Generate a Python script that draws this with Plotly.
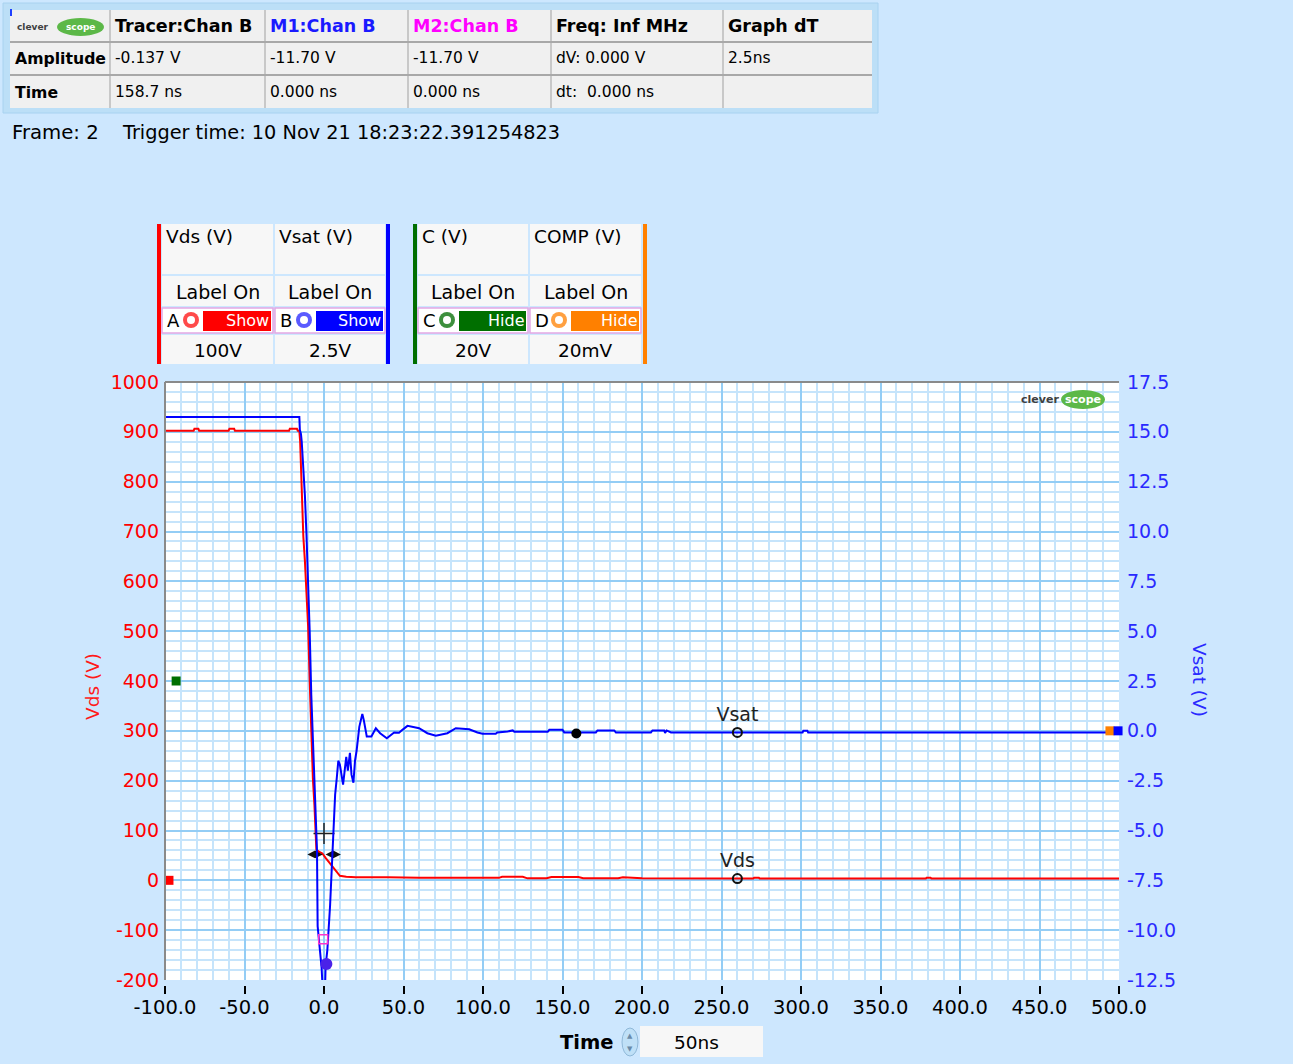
import plotly.graph_objects as go

# ---------------- data ----------------
vds_time = [-100, -82, -81.5, -79, -78.5, -60, -59.5, -56.5, -56, -22,
            -21.5, -17, -16.5, -15.5, -15, -14.5, -14, -13, -12, -11,
            -10, -9, -8, -7, -6, -5.5, -4.8, -3.5, -1, 1,
            3, 5, 7, 8, 10, 14, 20, 40, 60, 100,
            110, 112, 125, 128, 140, 143, 160, 163, 185, 188,
            200, 270, 270.5, 273.5, 274, 378.5, 379, 381.5, 382, 500]
vds_values = [902, 902, 906, 906, 902, 902, 906, 906, 902, 902,
              906, 906, 902, 902, 880, 820, 785, 690, 640, 580,
              510, 400, 300, 205, 150, 100, 62, 58, 54, 45,
              37, 27, 19, 15, 9, 7, 6, 6, 5, 5,
              5, 7, 7, 4, 4, 6.5, 6.5, 4, 4, 6,
              4, 3.5, 5, 5, 3.5, 3.5, 5, 5, 3.5, 3.5]

vsat_time = [-100, -15.5, -15.2, -14.5, -14, -13, -12, -11, -10, -9,
             -8, -7, -6, -5, -4.4, -4.0, -2.5, -1.5, -0.5, 0.5,
             1.0, 2.1, 3.8, 4.8, 6.0, 7.0, 8.0, 9.0, 10.0, 11.0,
             12.0, 13.0, 14.0, 15.0, 16.3, 17.3, 18.5, 19.5, 20.5, 22.2,
             24.1, 25.0, 26.9, 29.8, 32.6, 35.3, 39.5, 44.1, 47.2, 49.3,
             52.5, 59.8, 65.0, 70.3, 77.6, 82.9, 91.3, 96.5, 99.7, 108,
             109, 115.5, 118.7, 119.7, 140.7, 141.7, 150, 151.1, 171, 172,
             182.5, 183.6, 205.6, 206.6, 214, 214.5, 215.5, 218.2, 301, 301.5,
             304, 304.5, 500]
vsat_values = [15.75, 15.75, 15.1, 14.9, 14.5, 13.2, 11.8, 9.8, 7.6, 5.0,
               1.8, -0.3, -2.4, -4.0, -6.0, -9.8, -11.0, -11.9, -13.5, -13.5,
               -11.8, -11.0, -8.8, -6.8, -4.5, -3.2, -2.4, -1.5, -1.7, -2.3,
               -2.7, -2.0, -1.3, -2.0, -1.1, -2.2, -2.6, -1.5, -1.0, 0.2,
               0.85, 0.55, -0.28, -0.28, 0.13, -0.12, -0.37, -0.08, -0.1, 0.05,
               0.25, 0.13, -0.12, -0.25, -0.12, 0.13, 0.08, -0.08, -0.15, -0.15,
               -0.08, -0.03, 0.02, -0.05, -0.05, 0.05, 0.05, -0.08, -0.08, 0.02,
               0.02, -0.08, -0.08, 0.02, 0.02, -0.1, 0.02, -0.08, -0.08, 0.0,
               0.0, -0.08, -0.08]

x_ticks = [-100, -50, 0, 50, 100, 150, 200, 250, 300, 350, 400, 450, 500]
x_tick_labels = ["-100.0", "-50.0", "0.0", "50.0", "100.0", "150.0", "200.0",
                 "250.0", "300.0", "350.0", "400.0", "450.0", "500.0"]
vds_ticks = [-200, -100, 0, 100, 200, 300, 400, 500, 600, 700, 800, 900, 1000]
vds_tick_labels = ["-200", "-100", "0", "100", "200", "300", "400", "500",
                   "600", "700", "800", "900", "1000"]
vsat_ticks = [-12.5, -10.0, -7.5, -5.0, -2.5, 0.0, 2.5, 5.0, 7.5, 10.0, 12.5, 15.0, 17.5]
vsat_tick_labels = ["-12.5", "-10.0", "-7.5", "-5.0", "-2.5", "0.0", "2.5", "5.0",
                    "7.5", "10.0", "12.5", "15.0", "17.5"]

# cursor / marker readouts
tracer_time, tracer_amp = 158.7, -0.137
label_time = 260
vsat_label_value = -0.08
vds_label_value = 3.5
m1_time, m1_amp = 1.5, -11.70
m2_time, m2_amp = -0.5, -10.45
cross_time, cross_vds = 0.0, 94
dt_times = [-5.6, 5.8]
dt_vds = [52, 52]

header_row = ["Tracer:Chan B", "M1:Chan B", "M2:Chan B", "Freq: Inf MHz", "Graph dT"]
header_colors = ["black", "#1a1aff", "#ff00ff", "black", "black"]
amp_row = ["Amplitude", "-0.137 V", "-11.70 V", "-11.70 V", "dV: 0.000 V", "2.5ns"]
time_row = ["Time", "158.7 ns", "0.000 ns", "0.000 ns", "dt:&nbsp;&nbsp;0.000 ns", ""]

channel_names = ["Vds (V)", "Vsat (V)", "C (V)", "COMP (V)"]
channel_letters = ["A", "B", "C", "D"]
channel_states = ["Show", "Show", "Hide", "Hide"]
channel_scales = ["100V", "2.5V", "20V", "20mV"]
channel_colors = ["#ff0000", "#0000ff", "#006f00", "#ff8000"]
channel_icon_colors = ["#ff4a4a", "#5a5aff", "#3d8f3d", "#ffa040"]

# ---------------- geometry helpers ----------------
PL, PR, PT, PB, PB0 = 165, 1119, 382, 980, 985
PW = PR - PL
PH = PB0 - PT
FONT = "DejaVu Sans"
BG = "#cde7fe"


def fx(px):
    return (px - PL) / PW


def fy(py):
    return (PB0 - py) / PH


shapes = []
annos = []


def rect(x0, y0, x1, y1, fill, line=None, lw=0):
    shapes.append(dict(type="rect", xref="paper", yref="paper",
                       x0=fx(x0), x1=fx(x1), y0=fy(y1), y1=fy(y0),
                       fillcolor=fill, line=dict(color=line or fill, width=lw),
                       layer="above"))


def ellipse(x0, y0, x1, y1, fill, line=None, lw=0):
    shapes.append(dict(type="circle", xref="paper", yref="paper",
                       x0=fx(x0), x1=fx(x1), y0=fy(y1), y1=fy(y0),
                       fillcolor=fill, line=dict(color=line or fill, width=lw),
                       layer="above"))


def hline(x0, x1, y, color, w):
    shapes.append(dict(type="line", xref="paper", yref="paper",
                       x0=fx(x0), x1=fx(x1), y0=fy(y), y1=fy(y),
                       line=dict(color=color, width=w), layer="above"))


def vline(x, y0, y1, color, w):
    shapes.append(dict(type="line", xref="paper", yref="paper",
                       x0=fx(x), x1=fx(x), y0=fy(y0), y1=fy(y1),
                       line=dict(color=color, width=w), layer="above"))


def text(px, py, s, size=19, color="black", bold=False, xanchor="left", angle=0, family=FONT):
    annos.append(dict(xref="paper", yref="paper", x=fx(px), y=fy(py),
                      text=f"<b>{s}</b>" if bold else s, showarrow=False,
                      xanchor=xanchor, yanchor="middle", textangle=angle,
                      borderpad=0,
                      font=dict(family=family, size=size, color=color)))


# ---------------- readout table ----------------
rect(3, 3, 878, 113, "#bcdff7", "#a8d2f0", 1)
rect(10, 10, 872, 108, "#f0f0f0")
shapes.append(dict(type="line", xref="paper", yref="paper", x0=fx(11), x1=fx(11),
                   y0=fy(16), y1=fy(9), line=dict(color="#2040ff", width=2), layer="above"))
col_x = [10, 110, 265, 408, 551, 723, 872]
for cx in col_x[1:-1]:
    vline(cx, 10, 108, "#a0a0a0", 1)
hline(10, 872, 42, "#a8a8a8", 2)
hline(10, 872, 75, "#a8a8a8", 2)
# small logo in first cell
text(16, 27, "clever", 9, "#404040", bold=True)
ellipse(57, 18, 104, 36, "#5cb848")
text(80, 27, "scope", 9, "white", bold=True, xanchor="center")
for i, s in enumerate(header_row):
    text(col_x[i + 1] + 4, 26, s, 17.5, header_colors[i], bold=True)
for i, s in enumerate(amp_row):
    if s:
        text(col_x[i] + 4, 58, s, 15.7 if i == 0 else 15.5, "black", bold=(i == 0))
for i, s in enumerate(time_row):
    if s:
        text(col_x[i] + 4, 92, s, 15.7 if i == 0 else 15.5, "black", bold=(i == 0))

text(11, 132, "Frame: 2", 19.7)
text(121, 132, "Trigger time: 10 Nov 21 18:23:22.391254823", 19.3)

# ---------------- channel panel ----------------
cell_x = [(162, 273), (275, 385), (418, 528), (530, 641)]
bars = [(157, 161, 0), (386, 390, 1), (413, 417, 2), (643, 647, 3)]
for b0, b1, ci in bars:
    rect(b0, 224, b1, 364, channel_colors[ci])
for i, (c0, c1) in enumerate(cell_x):
    cc = (c0 + c1) / 2
    rect(c0, 224, c1, 274, "#f7f7f7")
    rect(c0, 276, c1, 306, "#f7f7f7")
    rect(c0, 308, c1, 333, "#ffffff", "#e4a8e4", 1.5)
    rect(c0, 335, c1, 364, "#f7f7f7")
    text(c0 + 3, 236, channel_names[i], 18.5)
    text(cc, 292, "Label On", 19, xanchor="center")
    text(c0 + 4, 320, channel_letters[i], 18)
    ellipse(c0 + 21, 312, c0 + 37, 328, channel_icon_colors[i])
    ellipse(c0 + 25, 316, c0 + 33, 324, "white")
    rect(c0 + 41, 311, c1 - 2, 331, channel_colors[i])
    text(c1 - 3, 320, channel_states[i], 16, "white", xanchor="right")
    text(cc, 351, channel_scales[i], 18.5, xanchor="center")

# ---------------- plot decorations ----------------
hline(PL, PR, PT, "#8a8a8a", 2)
vline(PL, PT, PB, "#8a8a8a", 2)
# logo inside plot
text(1040, 399, "clever", 11, "#404040", bold=True, xanchor="center")
ellipse(1061, 390, 1105, 409, "#5cb848")
text(1083, 399, "scope", 11, "white", bold=True, xanchor="center")

# axis titles
text(92, 687, "Vds (V)", 18.5, "#ff1a1a", xanchor="center", angle=-90)
text(1200, 680, "Vsat (V)", 18.5, "#2a2aff", xanchor="center", angle=90)

# time control
text(587, 1042, "Time", 19.5, "black", bold=True, xanchor="center")
ellipse(622, 1028, 638, 1056, "#bfe0f7", "#8fb8d8", 1)
text(630, 1036, "▲", 7, "#6a8aa8", xanchor="center")
text(630, 1049, "▼", 7, "#6a8aa8", xanchor="center")
rect(640, 1026, 763, 1057, "#f7f7f7")
text(696, 1042, "50ns", 18.5, xanchor="center")

# ---------------- traces ----------------
fig = go.Figure()
fig.add_trace(go.Scatter(x=vds_time, y=vds_values, mode="lines", yaxis="y",
                         line=dict(color="#ff0000", width=2), name="Vds"))
fig.add_trace(go.Scatter(x=vsat_time, y=vsat_values, mode="lines", yaxis="y2",
                         line=dict(color="#0000ff", width=2), name="Vsat"))

# channel offset markers
fig.add_trace(go.Scatter(x=[-97.5], y=[0], mode="markers", yaxis="y", cliponaxis=False,
                         marker=dict(symbol="square", size=9, color="#ff0000")))
fig.add_trace(go.Scatter(x=[-93], y=[400], mode="markers", yaxis="y", cliponaxis=False,
                         marker=dict(symbol="square", size=9, color="#006f00")))
fig.add_trace(go.Scatter(x=[494.3, 499.4], y=[0, 0], mode="markers", yaxis="y2", cliponaxis=False,
                         marker=dict(symbol="square", size=9, color=["#ff8000", "#0000ff"])))

# cursors
fig.add_trace(go.Scatter(x=[cross_time], y=[cross_vds], mode="markers", yaxis="y",
                         marker=dict(symbol="cross-thin", size=15, color="#202020",
                                     line=dict(color="#202020", width=1.5))))
fig.add_trace(go.Scatter(x=dt_times, y=dt_vds, mode="markers", yaxis="y",
                         marker=dict(symbol="diamond-wide", size=11, color="#101010")))
fig.add_trace(go.Scatter(x=[label_time], y=[vds_label_value], mode="markers+text", yaxis="y",
                         text=["Vds"], textposition="top center",
                         textfont=dict(family=FONT, size=19, color="#222222"),
                         marker=dict(symbol="circle-open", size=9, color="#111111",
                                     line=dict(color="#111111", width=2))))
fig.add_trace(go.Scatter(x=[label_time], y=[vsat_label_value], mode="markers+text", yaxis="y2",
                         text=["Vsat"], textposition="top center",
                         textfont=dict(family=FONT, size=19, color="#222222"),
                         marker=dict(symbol="circle-open", size=9, color="#111111",
                                     line=dict(color="#111111", width=2))))
fig.add_trace(go.Scatter(x=[tracer_time], y=[tracer_amp], mode="markers", yaxis="y2",
                         marker=dict(symbol="circle", size=10, color="#000000")))
fig.add_trace(go.Scatter(x=[m2_time], y=[m2_amp], mode="markers", yaxis="y2",
                         marker=dict(symbol="square-open", size=9, color="#ff33cc",
                                     line=dict(color="#ff33cc", width=1.5))))
fig.add_trace(go.Scatter(x=[m1_time], y=[m1_amp], mode="markers", yaxis="y2",
                         marker=dict(symbol="circle", size=12, color="#4a22e8")))

major = "#94cdf5"
minor = "#c6e4fb"
fig.update_layout(
    width=1293, height=1064,
    paper_bgcolor=BG, plot_bgcolor="white",
    margin=dict(l=PL, r=1293 - PR, t=PT, b=1064 - PB0, pad=0),
    showlegend=False,
    shapes=shapes, annotations=annos,
    xaxis=dict(range=[-100, 500], tickvals=x_ticks, ticktext=x_tick_labels,
               anchor="free", position=0, ticks="outside", ticklen=8, tickwidth=2,
               tickcolor="#000000", showline=False, zeroline=False,
               showgrid=True, gridcolor=major, gridwidth=1.5,
               ticklabelstandoff=-3,
               minor=dict(dtick=10, showgrid=True, gridcolor=minor, gridwidth=1.5, ticks=""),
               tickfont=dict(family=FONT, size=19.5, color="black")),
    yaxis=dict(range=[-200, 1000], tickvals=vds_ticks, ticktext=vds_tick_labels,
               domain=[(PB0 - PB) / PH, 1], ticks="", showline=False, zeroline=False,
               showgrid=True, gridcolor=major, gridwidth=1.5,
               ticklabelstandoff=5,
               minor=dict(dtick=20, showgrid=True, gridcolor=minor, gridwidth=1.5, ticks=""),
               tickfont=dict(family=FONT, size=19, color="#ff0000")),
    yaxis2=dict(range=[-12.5, 17.5], tickvals=vsat_ticks, ticktext=vsat_tick_labels,
                overlaying="y", side="right", ticks="", showline=False, zeroline=False,
                showgrid=False, ticklabelstandoff=7,
                tickfont=dict(family=FONT, size=19, color="#2a2aff")),
)

fig.write_html("out.html",
               config={"displayModeBar": False},
               post_script="document.body.style.margin='0px';"
                           "document.body.style.background='" + BG + "';")
